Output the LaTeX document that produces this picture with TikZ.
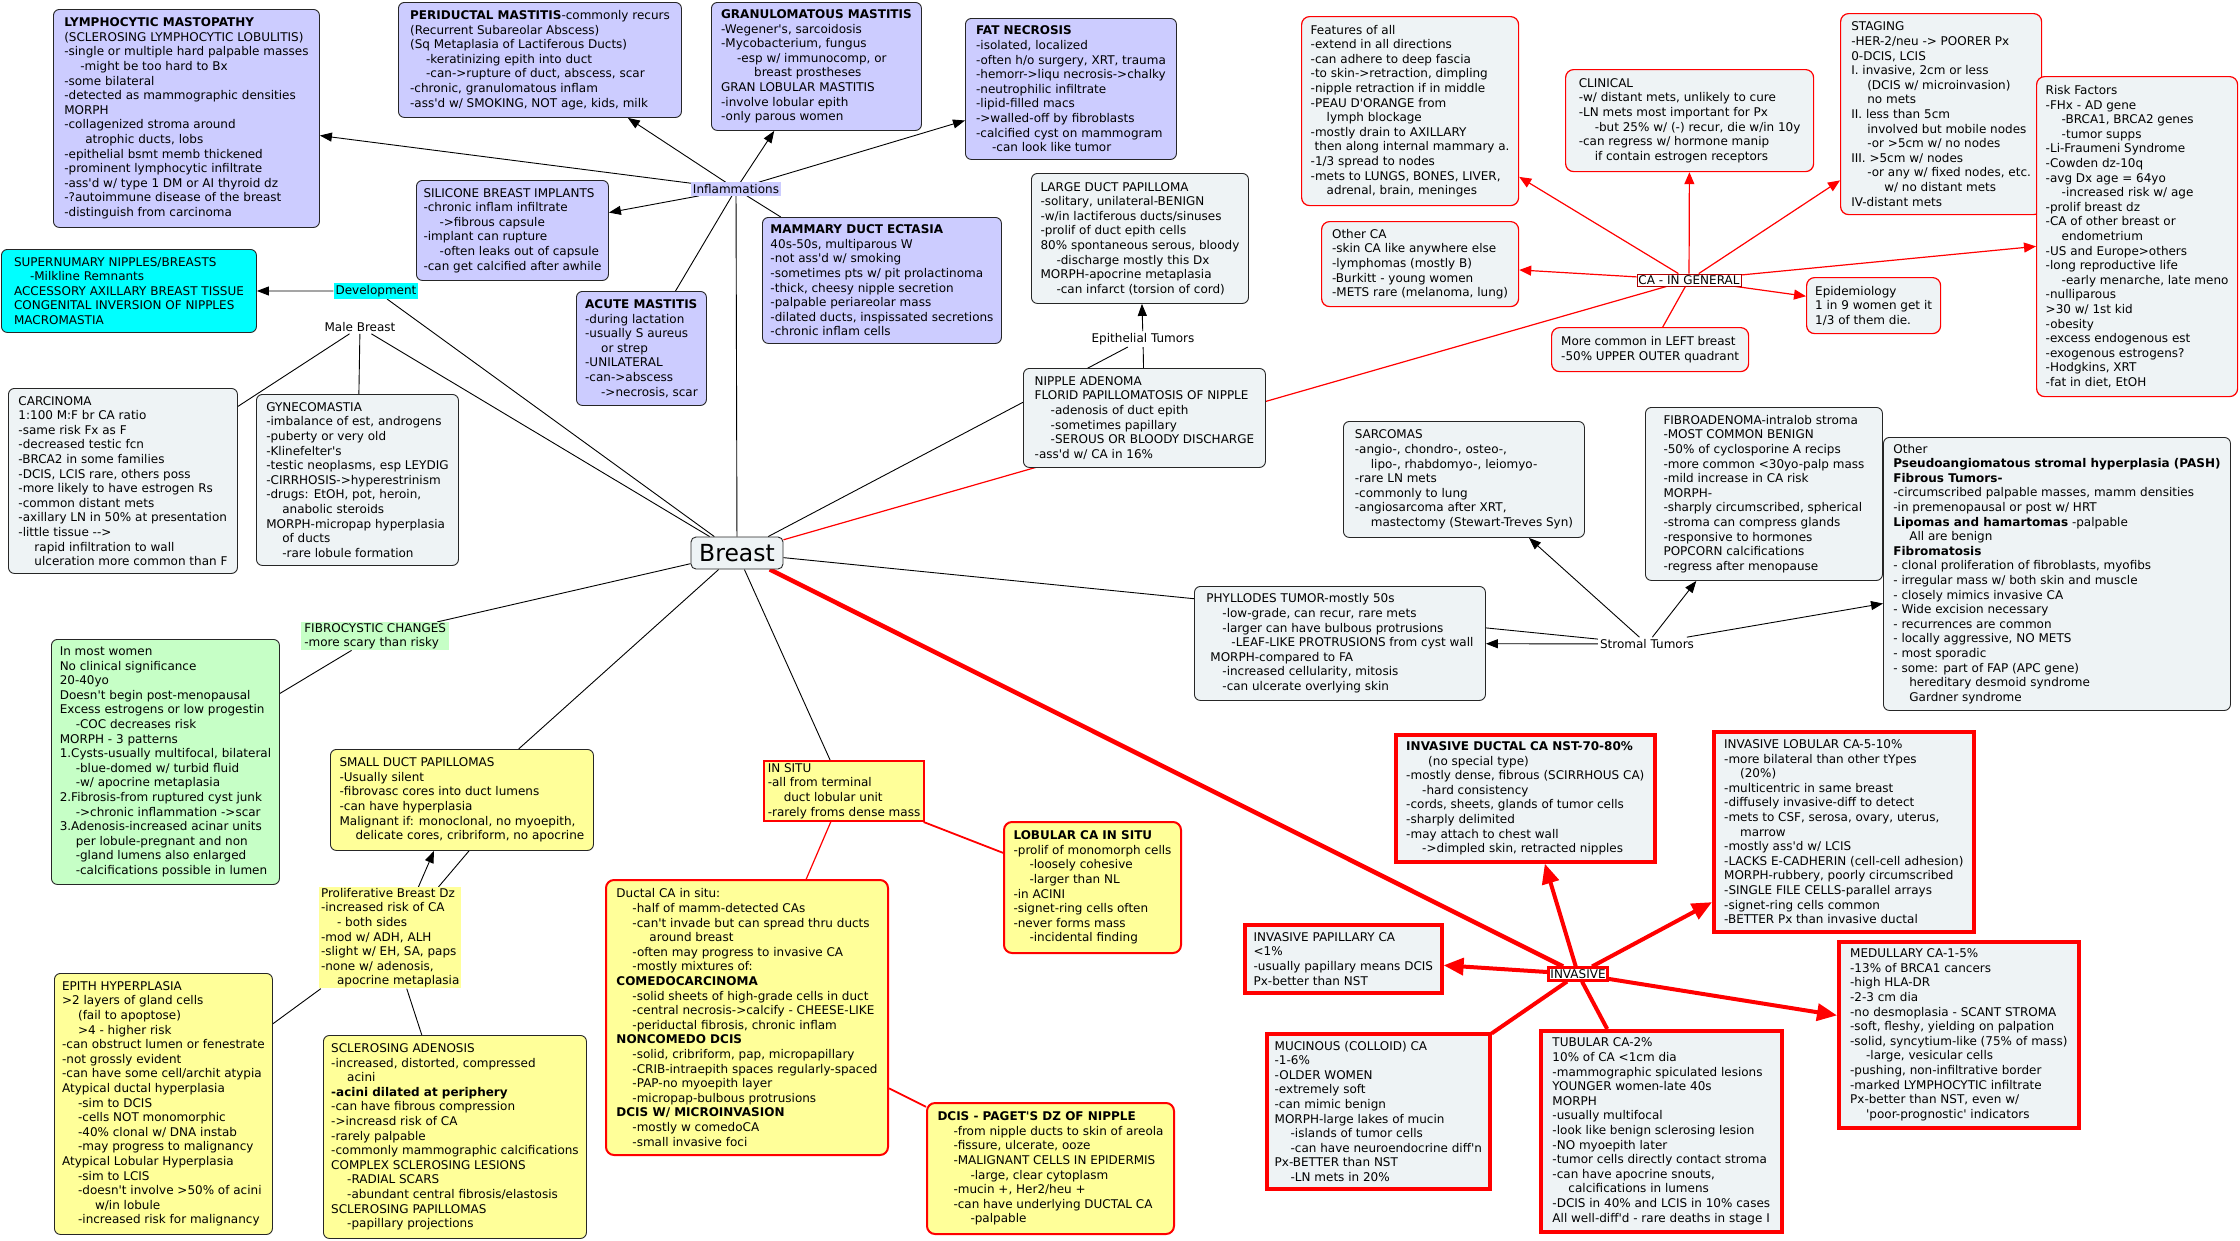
\documentclass[tikz,border=0pt]{standalone}
\usepackage{fontspec}
\setmainfont{DejaVu Sans}
\newfontfamily\vfont{DejaVu Sans}
\usetikzlibrary{arrows.meta}
\pgfdeclarelayer{background}
\pgfsetlayers{background,main}
\definecolor{lavc}{HTML}{CCCCFF}
\definecolor{gbc}{HTML}{EEF3F5}
\definecolor{cyanc}{HTML}{00FFFF}
\definecolor{greenc}{HTML}{C6FFC6}
\definecolor{yelc}{HTML}{FFFF99}
\definecolor{redc}{HTML}{FF0000}
\definecolor{dredc}{HTML}{B00000}
\newcommand\fsn{\vfont\fontsize{12}{14.6}\selectfont}
\newcommand\indA{\hspace*{16pt}}
\newcommand\indB{\hspace*{33pt}}
\tikzset{
 every node/.style={font=\fsn},
 sz/.style 2 args={minimum width=#1, minimum height=#2},
 cbox/.style={draw=black!85, line width=0.9pt, rounded corners=6pt, align=left, anchor=north west, inner xsep=7pt, inner ysep=6pt},
 lavbox/.style={cbox, fill=lavc},
 gbbox/.style={cbox, fill=gbc},
 cybox/.style={cbox, fill=cyanc},
 grbox/.style={cbox, fill=greenc},
 yebox/.style={cbox, fill=yelc},
 rgbox/.style={cbox, draw=redc, fill=gbc, line width=1.2pt, rounded corners=8pt},
 rybox/.style={cbox, draw=redc, fill=yelc, line width=2pt, rounded corners=8pt},
 invbox/.style={cbox, draw=redc, fill=gbc, line width=3.6pt, rounded corners=0pt},
 lbl/.style={inner sep=2pt, align=left},
 ln/.style={draw=black, line width=0.9pt},
 arr/.style={draw=black, line width=0.9pt, -{Triangle[length=12pt,width=9pt]}},
 rln/.style={draw=redc, line width=1.2pt},
 rarr/.style={draw=redc, line width=1.2pt, -{Triangle[length=12pt,width=10pt]}},
 tln/.style={draw=redc, line width=4pt},
 tarr/.style={draw=redc, line width=4pt, -{Triangle[length=20pt,width=17pt]}},
}
\begin{document}
\begin{tikzpicture}[x=1pt,y=-1pt]
\useasboundingbox (0,0) rectangle (2240,1240);

% ---------- Inflammations cluster ----------
\node[lavbox, sz={266}{218}] (lymph) at (53,9) {\textbf{LYMPHOCYTIC MASTOPATHY}\\
(SCLEROSING LYMPHOCYTIC LOBULITIS)\\
-single or multiple hard palpable masses\\
\indA -might be too hard to Bx\\
-some bilateral\\
-detected as mammographic densities\\
MORPH\\
-collagenized stroma around\\
\hspace*{21pt}atrophic ducts, lobs\\
-epithelial bsmt memb thickened\\
-prominent lymphocytic infiltrate\\
-ass'd w/ type 1 DM or AI thyroid dz\\
-?autoimmune disease of the breast\\
-distinguish from carcinoma};

\node[lavbox, sz={283}{115}] (peri) at (398,2) {\textbf{PERIDUCTAL MASTITIS}-commonly recurs\\
(Recurrent Subareolar Abscess)\\
(Sq Metaplasia of Lactiferous Ducts)\\
\indA -keratinizing epith into duct\\
\indA -can->rupture of duct, abscess, scar\\
-chronic, granulomatous inflam\\
-ass'd w/ SMOKING, NOT age, kids, milk};

\node[lavbox, sz={210}{128}] (gran) at (711,2) {\textbf{GRANULOMATOUS MASTITIS}\\
-Wegener's, sarcoidosis\\
-Mycobacterium, fungus\\
\indA -esp w/ immunocomp, or\\
\indB breast prostheses\\
GRAN LOBULAR MASTITIS\\
-involve lobular epith\\
-only parous women};

\node[lavbox, sz={211}{141}] (fat) at (965,18) {\textbf{FAT NECROSIS}\\
-isolated, localized\\
-often h/o surgery, XRT, trauma\\
-hemorr->liqu necrosis->chalky\\
-neutrophilic infiltrate\\
-lipid-filled macs\\
->walled-off by fibroblasts\\
-calcified cyst on mammogram\\
\indA -can look like tumor};

\node[lavbox, sz={192}{100}] (silic) at (416,180) {SILICONE BREAST IMPLANTS\\
-chronic inflam infiltrate\\
\indA ->fibrous capsule\\
-implant can rupture\\
\indA -often leaks out of capsule\\
-can get calcified after awhile};

\node[lavbox, sz={130}{114}] (acute) at (576,291) {\textbf{ACUTE MASTITIS}\\
-during lactation\\
-usually S aureus\\
\indA or strep\\
-UNILATERAL\\
-can->abscess\\
\indA ->necrosis, scar};

\node[lavbox, sz={239}{126}] (mamm) at (762,217) {\textbf{MAMMARY DUCT ECTASIA}\\
40s-50s, multiparous W\\
-not ass'd w/ smoking\\
-sometimes pts w/ pit prolactinoma\\
-thick, cheesy nipple secretion\\
-palpable periareolar mass\\
-dilated ducts, inspissated secretions\\
-chronic inflam cells};

\node[lbl, fill=lavc] (infl) at (736,189) {Inflammations};

% ---------- Development / male ----------
\node[cybox, sz={255}{83}] (super) at (1,249) {SUPERNUMARY NIPPLES/BREASTS\\
\indA -Milkline Remnants\\
ACCESSORY AXILLARY BREAST TISSUE\\
CONGENITAL INVERSION OF NIPPLES\\
MACROMASTIA};
\node[lbl, fill=cyanc] (devel) at (376,291) {Development};
\node[lbl] (male) at (360,327) {Male Breast};

\node[gbbox, sz={229}{185}] (carc) at (8,388) {CARCINOMA\\
1:100 M:F br CA ratio\\
-same risk Fx as F\\
-decreased testic fcn\\
-BRCA2 in some families\\
-DCIS, LCIS rare, others poss\\
-more likely to have estrogen Rs\\
-common distant mets\\
-axillary LN in 50\% at presentation\\
-little tissue -->\\
\indA rapid infiltration to wall\\
\indA ulceration more common than F};

\node[gbbox, sz={202}{171}] (gyn) at (256,394) {GYNECOMASTIA\\
-imbalance of est, androgens\\
-puberty or very old\\
-Klinefelter's\\
-testic neoplasms, esp LEYDIG\\
-CIRRHOSIS->hyperestrinism\\
-drugs: EtOH, pot, heroin,\\
\indA anabolic steroids\\
MORPH-micropap hyperplasia\\
\indA of ducts\\
\indA -rare lobule formation};

% ---------- Breast ----------
\node[draw=black!85, line width=0.9pt, fill=gbc, rounded corners=5pt, minimum width=92, minimum height=32, inner sep=2pt, font=\vfont\fontsize{23.5}{26}\selectfont] (breast) at (737,553) {Breast};

% ---------- Epithelial tumors ----------
\node[gbbox, sz={217}{130}] (ldp) at (1031,173) {LARGE DUCT PAPILLOMA\\
-solitary, unilateral-BENIGN\\
-w/in lactiferous ducts/sinuses\\
-prolif of duct epith cells\\
80\% spontaneous serous, bloody\\
\indA -discharge mostly this Dx\\
MORPH-apocrine metaplasia\\
\indA -can infarct (torsion of cord)};
\node[lbl] (epit) at (1143,339) {Epithelial Tumors};
\node[gbbox, sz={242}{99}] (nipple) at (1023,368) {NIPPLE ADENOMA\\
FLORID PAPILLOMATOSIS OF NIPPLE\\
\indA -adenosis of duct epith\\
\indA -sometimes papillary\\
\indA -SEROUS OR BLOODY DISCHARGE\\
-ass'd w/ CA in 16\%};

% ---------- CA in general ----------
\node[rgbox, sz={217}{189}] (feat) at (1301,16) {Features of all\\
-extend in all directions\\
-can adhere to deep fascia\\
-to skin->retraction, dimpling\\
-nipple retraction if in middle\\
-PEAU D'ORANGE from\\
\indA lymph blockage\\
-mostly drain to AXILLARY\\
\hspace*{4pt}then along internal mammary a.\\
-1/3 spread to nodes\\
-mets to LUNGS, BONES, LIVER,\\
\indA adrenal, brain, meninges};

\node[rgbox, sz={197}{85}] (othca) at (1321,221) {Other CA\\
-skin CA like anywhere else\\
-lymphomas (mostly B)\\
-Burkitt - young women\\
-METS rare (melanoma, lung)};

\node[rgbox, sz={248}{102}] (clin) at (1565,69) {CLINICAL\\
-w/ distant mets, unlikely to cure\\
-LN mets most important for Px\\
\indA -but 25\% w/ (-) recur, die w/in 10y\\
-can regress w/ hormone manip\\
\indA if contain estrogen receptors};

\node[rgbox, sz={201}{201}] (stag) at (1840,13) {STAGING\\
-HER-2/neu -> POORER Px\\
0-DCIS, LCIS\\
I. invasive, 2cm or less\\
\indA (DCIS w/ microinvasion)\\
\indA no mets\\
II. less than 5cm\\
\indA involved but mobile nodes\\
\indA -or >5cm w/ no nodes\\
III. >5cm w/ nodes\\
\indA -or any w/ fixed nodes, etc.\\
\indB w/ no distant mets\\
IV-distant mets};

\node[rgbox, sz={201}{320}] (risk) at (2036,76) {Risk Factors\\
-FHx - AD gene\\
\indA -BRCA1, BRCA2 genes\\
\indA -tumor supps\\
-Li-Fraumeni Syndrome\\
-Cowden dz-10q\\
-avg Dx age = 64yo\\
\indA -increased risk w/ age\\
-prolif breast dz\\
-CA of other breast or\\
\indA endometrium\\
-US and Europe>others\\
-long reproductive life\\
\indA -early menarche, late meno\\
-nulliparous\\
>30 w/ 1st kid\\
-obesity\\
-excess endogenous est\\
-exogenous estrogens?\\
-Hodgkins, XRT\\
-fat in diet, EtOH};

\node[rgbox, sz={134}{56}] (epid) at (1806,277) {Epidemiology\\
1 in 9 women get it\\
1/3 of them die.};

\node[rgbox, sz={197}{44}] (more) at (1551,327) {More common in LEFT breast\\
-50\% UPPER OUTER quadrant};

\node[draw=dredc, line width=0.8pt, fill=white, inner sep=1.5pt] (cagen) at (1689,280) {CA - IN GENERAL};

% ---------- Stromal tumors ----------
\node[gbbox, sz={241}{116}] (sarc) at (1343,421) {SARCOMAS\\
-angio-, chondro-, osteo-,\\
\indA lipo-, rhabdomyo-, leiomyo-\\
-rare LN mets\\
-commonly to lung\\
-angiosarcoma after XRT,\\
\indA mastectomy (Stewart-Treves Syn)};

\node[gbbox, sz={237}{173}] (fibad) at (1645,407) {FIBROADENOMA-intralob stroma\\
-MOST COMMON BENIGN\\
-50\% of cyclosporine A recips\\
-more common <30yo-palp mass\\
-mild increase in CA risk\\
MORPH-\\
-sharply circumscribed, spherical\\
-stroma can compress glands\\
-responsive to hormones\\
POPCORN calcifications\\
-regress after menopause};

\node[gbbox, sz={347}{273}] (othstr) at (1883,437) {Other\\
\textbf{Pseudoangiomatous stromal hyperplasia (PASH)}\\
\textbf{Fibrous Tumors-}\\
-circumscribed palpable masses, mamm densities\\
-in premenopausal or post w/ HRT\\
\textbf{Lipomas and hamartomas} -palpable\\
\indA All are benign\\
\textbf{Fibromatosis}\\
- clonal proliferation of fibroblasts, myofibs\\
- irregular mass w/ both skin and muscle\\
- closely mimics invasive CA\\
- Wide excision necessary\\
- recurrences are common\\
- locally aggressive, NO METS\\
- most sporadic\\
- some: part of FAP (APC gene)\\
\indA hereditary desmoid syndrome\\
\indA Gardner syndrome};

\node[gbbox, sz={291}{114}] (phyl) at (1194,586) {PHYLLODES TUMOR-mostly 50s\\
\indA -low-grade, can recur, rare mets\\
\indA -larger can have bulbous protrusions\\
\hspace*{25pt}-LEAF-LIKE PROTRUSIONS from cyst wall\\
\hspace*{4pt}MORPH-compared to FA\\
\indA -increased cellularity, mitosis\\
\indA -can ulcerate overlying skin};

\node[lbl] (strom) at (1647,644) {Stromal Tumors};

% ---------- Fibrocystic / proliferative ----------
\node[lbl, fill=greenc, anchor=north west, sz={148}{27}, inner sep=1pt] (fibro) at (301,622) {FIBROCYSTIC CHANGES\\
-more scary than risky};

\node[grbox, sz={228}{245}] (most) at (51,639) {In most women\\
No clinical significance\\
20-40yo\\
Doesn't begin post-menopausal\\
Excess estrogens or low progestin\\
\indA -COC decreases risk\\
MORPH - 3 patterns\\
1.Cysts-usually multifocal, bilateral\\
\indA -blue-domed w/ turbid fluid\\
\indA -w/ apocrine metaplasia\\
2.Fibrosis-from ruptured cyst junk\\
\indA ->chronic inflammation ->scar\\
3.Adenosis-increased acinar units\\
\indA per lobule-pregnant and non\\
\indA -gland lumens also enlarged\\
\indA -calcifications possible in lumen};

\node[yebox, sz={263}{101}] (sdp) at (330,749) {SMALL DUCT PAPILLOMAS\\
-Usually silent\\
-fibrovasc cores into duct lumens\\
-can have hyperplasia\\
Malignant if: monoclonal, no myoepith,\\
\indA delicate cores, cribriform, no apocrine};

\node[lbl, fill=yelc, anchor=north west, sz={142}{101}, inner sep=1pt] (prolif) at (319,887) {Proliferative Breast Dz\\
-increased risk of CA\\
\indA - both sides\\
-mod w/ ADH, ALH\\
-slight w/ EH, SA, paps\\
-none w/ adenosis,\\
\indA apocrine metaplasia};

\node[yebox, sz={218}{261}] (epith) at (54,973) {EPITH HYPERPLASIA\\
>2 layers of gland cells\\
\indA (fail to apoptose)\\
\indA >4 - higher risk\\
-can obstruct lumen or fenestrate\\
-not grossly evident\\
-can have some cell/archit atypia\\
Atypical ductal hyperplasia\\
\indA -sim to DCIS\\
\indA -cells NOT monomorphic\\
\indA -40\% clonal w/ DNA instab\\
\indA -may progress to malignancy\\
Atypical Lobular Hyperplasia\\
\indA -sim to LCIS\\
\indA -doesn't involve >50\% of acini\\
\indB w/in lobule\\
\indA -increased risk for malignancy};

\node[yebox, sz={263}{203}] (sclad) at (323,1035) {SCLEROSING ADENOSIS\\
-increased, distorted, compressed\\
\indA acini\\
\textbf{-acini dilated at periphery}\\
-can have fibrous compression\\
->increasd risk of CA\\
-rarely palpable\\
-commonly mammographic calcifications\\
COMPLEX SCLEROSING LESIONS\\
\indA -RADIAL SCARS\\
\indA -abundant central fibrosis/elastosis\\
SCLEROSING PAPILLOMAS\\
\indA -papillary projections};

% ---------- In situ ----------
\node[cbox, draw=redc, fill=yelc, line width=2pt, rounded corners=0pt, inner sep=2pt, sz={160}{60}] (insitu) at (763,760) {IN SITU\\
-all from terminal\\
\indA duct lobular unit\\
-rarely froms dense mass};

\node[rybox, sz={282}{275}] (ductal) at (605,879) {Ductal CA in situ:\\
\indA -half of mamm-detected CAs\\
\indA -can't invade but can spread thru ducts\\
\indB around breast\\
\indA -often may progress to invasive CA\\
\indA -mostly mixtures of:\\
\textbf{COMEDOCARCINOMA}\\
\indA -solid sheets of high-grade cells in duct\\
\indA -central necrosis->calcify - CHEESE-LIKE\\
\indA -periductal fibrosis, chronic inflam\\
\textbf{NONCOMEDO DCIS}\\
\indA -solid, cribriform, pap, micropapillary\\
\indA -CRIB-intraepith spaces regularly-spaced\\
\indA -PAP-no myoepith layer\\
\indA -micropap-bulbous protrusions\\
\textbf{DCIS W/ MICROINVASION}\\
\indA -mostly w comedoCA\\
\indA -small invasive foci};

\node[rybox, sz={177}{131}] (lcis) at (1003,821) {\textbf{LOBULAR CA IN SITU}\\
-prolif of monomorph cells\\
\indA -loosely cohesive\\
\indA -larger than NL\\
-in ACINI\\
-signet-ring cells often\\
-never forms mass\\
\indA -incidental finding};

\node[rybox, sz={247}{131}] (paget) at (926,1102) {\textbf{DCIS - PAGET'S DZ OF NIPPLE}\\
\indA -from nipple ducts to skin of areola\\
\indA -fissure, ulcerate, ooze\\
\indA -MALIGNANT CELLS IN EPIDERMIS\\
\indB -large, clear cytoplasm\\
\indA -mucin +, Her2/heu +\\
\indA -can have underlying DUCTAL CA\\
\indB -palpable};

% ---------- Invasive ----------
\node[invbox, sz={259}{127}] (idc) at (1394,733) {\textbf{INVASIVE DUCTAL CA NST-70-80\%}\\
\hspace*{22pt}(no special type)\\
-mostly dense, fibrous (SCIRRHOUS CA)\\
\indA -hard consistency\\
-cords, sheets, glands of tumor cells\\
-sharply delimited\\
-may attach to chest wall\\
\indA ->dimpled skin, retracted nipples};

\node[invbox, sz={260}{200}] (ilc) at (1712,730) {INVASIVE LOBULAR CA-5-10\%\\
-more bilateral than other tYpes\\
\indA (20\%)\\
-multicentric in same breast\\
-diffusely invasive-diff to detect\\
-mets to CSF, serosa, ovary, uterus,\\
\indA marrow\\
-mostly ass'd w/ LCIS\\
-LACKS E-CADHERIN (cell-cell adhesion)\\
MORPH-rubbery, poorly circumscribed\\
-SINGLE FILE CELLS-parallel arrays\\
-signet-ring cells common\\
-BETTER Px than invasive ductal};

\node[invbox, sz={197}{68}] (ipc) at (1243,923) {INVASIVE PAPILLARY CA\\
<1\%\\
-usually papillary means DCIS\\
Px-better than NST};

\node[invbox, sz={223}{155}] (muc) at (1265,1032) {MUCINOUS (COLLOID) CA\\
-1-6\%\\
-OLDER WOMEN\\
-extremely soft\\
-can mimic benign\\
MORPH-large lakes of mucin\\
\indA -islands of tumor cells\\
\indA -can have neuroendocrine diff'n\\
Px-BETTER than NST\\
\indA -LN mets in 20\%};

\node[invbox, sz={241}{201}] (tub) at (1539,1029) {TUBULAR CA-2\%\\
10\% of CA <1cm dia\\
-mammographic spiculated lesions\\
YOUNGER women-late 40s\\
MORPH\\
-usually multifocal\\
-look like benign sclerosing lesion\\
-NO myoepith later\\
-tumor cells directly contact stroma\\
-can have apocrine snouts,\\
\indA calcifications in lumens\\
-DCIS in 40\% and LCIS in 10\% cases\\
All well-diff'd - rare deaths in stage I};

\node[invbox, sz={240}{186}] (med) at (1837,940) {MEDULLARY CA-1-5\%\\
-13\% of BRCA1 cancers\\
-high HLA-DR\\
-2-3 cm dia\\
-no desmoplasia - SCANT STROMA\\
-soft, fleshy, yielding on palpation\\
-solid, syncytium-like (75\% of mass)\\
\indA -large, vesicular cells\\
-pushing, non-infiltrative border\\
-marked LYMPHOCYTIC infiltrate\\
Px-better than NST, even w/\\
\indA 'poor-prognostic' indicators};

\node[draw=redc, line width=3pt, fill=white, inner sep=1.5pt] (inv) at (1578,974) {INVASIVE};

% ---------- connectors ----------
\begin{pgfonlayer}{background}
\fill[white] (0,0) rectangle (2240,1240);
\draw[ln] (breast) -- (infl);
\draw[arr] (infl) -- (lymph);
\draw[arr] (infl) -- (peri);
\draw[arr] (infl) -- (gran);
\draw[arr] (infl) -- (fat);
\draw[arr] (infl) -- (silic);
\draw[ln] (infl) -- (acute);
\draw[ln] (infl) -- (mamm);
\draw[ln] (breast) -- (devel);
\draw[arr] (devel) -- (super);
\draw[ln] (breast) -- (male);
\draw[ln] (male) -- (carc);
\draw[ln] (male) -- (gyn);
\draw[ln] (breast) -- (fibro);
\draw[ln] (fibro) -- (most);
\draw[ln] (breast) -- (sdp);
\draw[arr] ([xshift=-43pt]prolif.north east) -- ([xshift=104pt]sdp.south west);
\draw[ln] ([xshift=139pt]sdp.south west) -- ([xshift=-23pt]prolif.north east);
\draw[ln] (prolif) -- (epith);
\draw[ln] (prolif) -- (sclad);
\draw[ln] (breast) -- (insitu);
\draw[rln] (insitu) -- (ductal);
\draw[rln, line width=1.8pt] (insitu) -- (lcis);
\draw[rln, line width=1.8pt] (ductal) -- (paget);
\draw[tln, line width=4.5pt] (breast) -- (inv);
\draw[tarr] (inv) -- (idc);
\draw[tarr] (inv) -- (ilc);
\draw[tarr] (inv) -- (ipc);
\draw[tarr] (inv) -- (med);
\draw[tln] (inv) -- (muc);
\draw[tln] (inv) -- (tub);
\draw[ln] (breast) -- (epit);
\draw[arr] (epit) -- (ldp);
\draw[ln] (epit) -- (nipple);
\draw[rln] (breast) -- (cagen);
\draw[rarr] (cagen) -- (feat);
\draw[rarr] (cagen) -- (othca);
\draw[rarr] (cagen) -- (clin);
\draw[rarr] (cagen) -- (stag);
\draw[rarr] (cagen) -- (risk);
\draw[rarr] (cagen) -- (epid);
\draw[rln] (cagen) -- (more);
\draw[ln] (breast) -- (strom);
\draw[arr] (strom) -- (phyl);
\draw[arr] (strom) -- (sarc);
\draw[arr] (strom) -- (fibad);
\draw[arr] (strom) -- (othstr);
\end{pgfonlayer}
\end{tikzpicture}
\end{document}
